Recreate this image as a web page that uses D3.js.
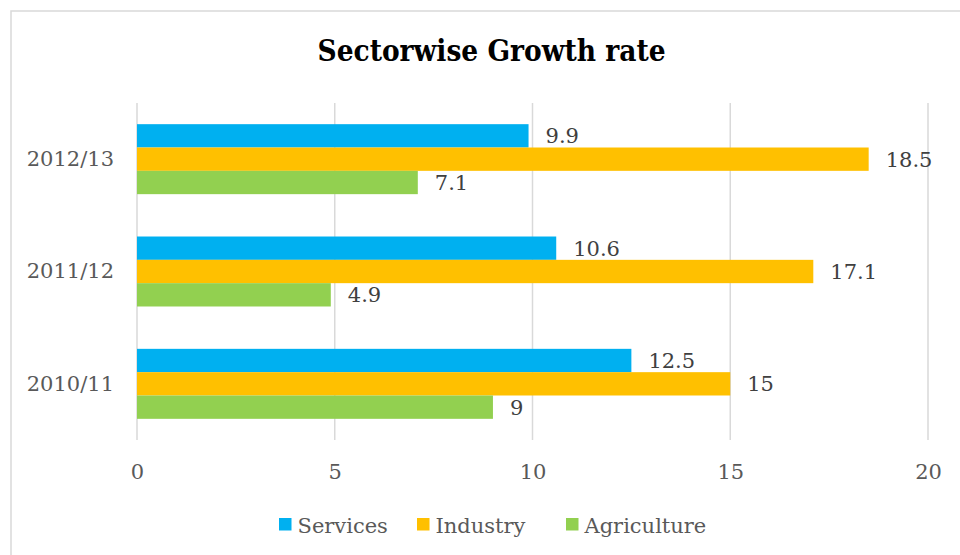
<!DOCTYPE html>
<html>
<head>
<meta charset="utf-8">
<script src="https://cdn.jsdelivr.net/npm/d3@7"></script>
<style>
  html, body { margin: 0; padding: 0; background: #fff; }
  svg { display: block; }
  text { font-family: "DejaVu Serif", "Liberation Serif", serif; }
</style>
</head>
<body>
<script>
// Growth rate (%) by sector and fiscal year
const years = ["2012/13", "2011/12", "2010/11"];
const sectors = ["Services", "Industry", "Agriculture"];
const services = [9.9, 10.6, 12.5];
const industry = [18.5, 17.1, 15];
const agriculture = [7.1, 4.9, 9];
const xTicks = [0, 5, 10, 15, 20];
const sectorColors = ["#00B0F0", "#FFC000", "#92D050"];

const seriesValues = [services, industry, agriculture];
const rows = years.map((y, i) => ({
  year: y,
  values: sectors.map((s, k) => ({ sector: s, value: seriesValues[k][i] }))
}));

const W = 960, H = 555;
const svg = d3.select("body").append("svg").attr("width", W).attr("height", H);

// chart frame
svg.append("rect")
  .attr("x", 11).attr("y", 11)
  .attr("width", W + 10).attr("height", H + 10)
  .attr("fill", "#fff").attr("stroke", "#d9d9d9").attr("stroke-width", 1.5);

// title
svg.append("text")
  .attr("x", 491.5).attr("y", 61)
  .attr("text-anchor", "middle")
  .attr("font-weight", "bold")
  .attr("font-size", 30)
  .attr("fill", "#000")
  .attr("textLength", 348)
  .attr("lengthAdjust", "spacingAndGlyphs")
  .text("Sectorwise Growth rate");

const plotTop = 103, plotBottom = 440, plotLeft = 137, plotRight = 928;

const x = d3.scaleLinear().domain([0, 20]).range([plotLeft, plotRight]);

// first year sits at the top
const y = d3.scaleBand()
  .domain(years)
  .range([plotTop, plotBottom])
  .paddingInner(0.377)
  .paddingOuter(0.1885);

const ySub = d3.scaleBand().domain(sectors).range([0, y.bandwidth()]);
const color = d3.scaleOrdinal().domain(sectors).range(sectorColors);

// vertical gridlines
svg.append("g")
  .selectAll("line")
  .data(xTicks)
  .join("line")
  .attr("x1", d => x(d)).attr("x2", d => x(d))
  .attr("y1", plotTop).attr("y2", plotBottom)
  .attr("stroke", "#d9d9d9").attr("stroke-width", 1.5);

// x tick labels
const xAxis = svg.append("g")
  .attr("transform", `translate(0,${plotBottom})`)
  .call(d3.axisBottom(x).tickValues(xTicks).tickSize(0).tickPadding(24));
xAxis.select(".domain").remove();
xAxis.selectAll("text")
  .attr("font-family", "DejaVu Serif, serif")
  .attr("font-size", 21)
  .attr("fill", "#595959");

// y category labels
const yAxis = svg.append("g")
  .attr("transform", `translate(${plotLeft},0)`)
  .call(d3.axisLeft(y).tickSize(0).tickPadding(23));
yAxis.select(".domain").remove();
yAxis.selectAll("text")
  .attr("font-family", "DejaVu Serif, serif")
  .attr("font-size", 21)
  .attr("fill", "#595959");

// bars
const groups = svg.append("g")
  .selectAll("g")
  .data(rows)
  .join("g")
  .attr("transform", d => `translate(0,${y(d.year)})`);

groups.selectAll("rect")
  .data(d => d.values)
  .join("rect")
  .attr("x", x(0))
  .attr("y", d => ySub(d.sector))
  .attr("width", d => x(d.value) - x(0))
  .attr("height", ySub.bandwidth())
  .attr("fill", d => color(d.sector));

// value labels
groups.selectAll("text.val")
  .data(d => d.values)
  .join("text")
  .attr("class", "val")
  .attr("x", d => x(d.value) + 17)
  .attr("y", d => ySub(d.sector) + ySub.bandwidth() / 2)
  .attr("dy", "0.36em")
  .attr("font-size", 21)
  .attr("fill", "#404040")
  .text(d => d3.format("~g")(d.value));

// legend
const legendX = [279, 417, 566];
const legend = svg.append("g")
  .selectAll("g")
  .data(sectors)
  .join("g")
  .attr("transform", (d, i) => `translate(${legendX[i]},518)`);
legend.append("rect")
  .attr("width", 12.5).attr("height", 12.5)
  .attr("fill", d => color(d));
legend.append("text")
  .attr("x", 18.5).attr("y", 14.5)
  .attr("font-size", 21)
  .attr("fill", "#595959")
  .text(d => d);
</script>
</body>
</html>
